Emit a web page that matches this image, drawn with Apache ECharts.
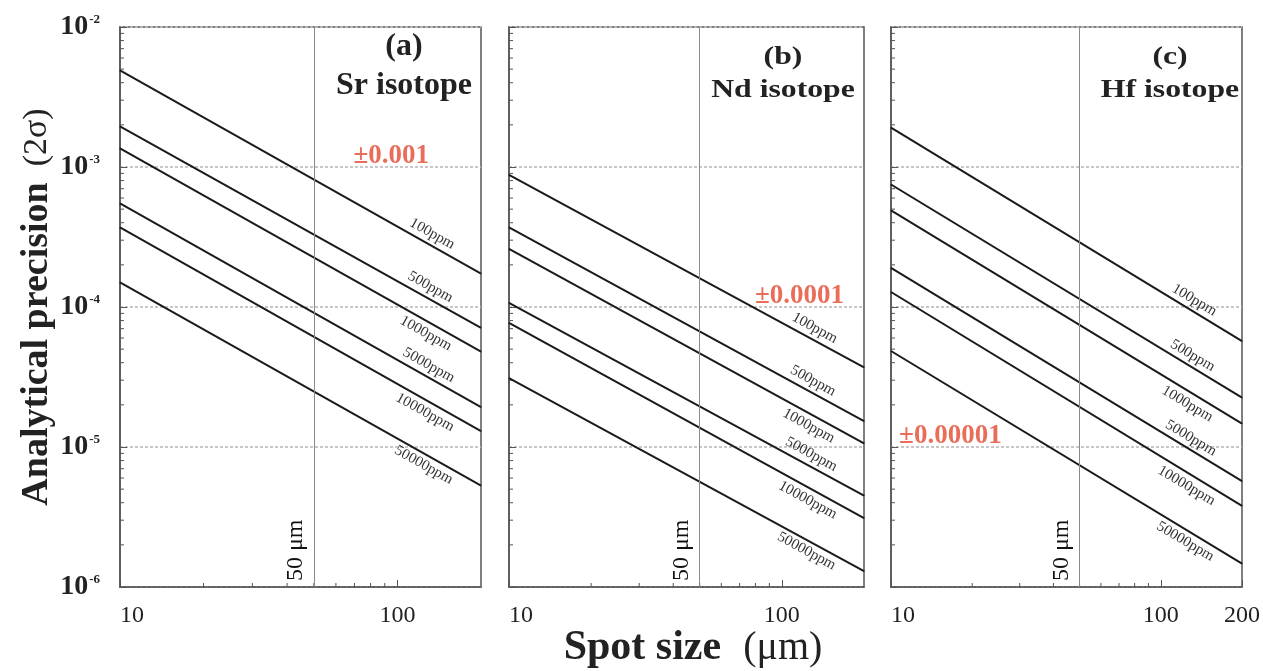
<!DOCTYPE html>
<html><head><meta charset="utf-8">
<script src="https://cdn.jsdelivr.net/npm/echarts@6/dist/echarts.min.js"></script>
<style>html,body{margin:0;padding:0;background:#fff}#c{width:1263px;height:671px}</style>
</head><body><div id="c"></div>
<script>
// ---------------- data ----------------
const concentrations = ['100ppm', '500ppm', '1000ppm', '5000ppm', '10000ppm', '50000ppm'];
const spotSizes = [10, 200];                 // µm, ends of each line
// analytical precision (2σ) at 10 µm and at 200 µm
const srAt10  = [4.9e-3, 1.95e-3, 1.36e-3, 5.5e-4, 3.7e-4, 1.5e-4];
const srAt200 = [1.73e-4, 7.1e-5, 4.8e-5, 1.93e-5, 1.3e-5, 5.3e-6];
const ndAt10  = [8.8e-4, 3.7e-4, 2.6e-4, 1.07e-4, 7.7e-5, 3.1e-5];
const ndAt200 = [3.7e-5, 1.53e-5, 1.06e-5, 4.5e-6, 3.1e-6, 1.3e-6];
const hfAt10  = [1.91e-3, 7.5e-4, 4.9e-4, 1.9e-4, 1.28e-4, 4.85e-5];
const hfAt200 = [5.7e-5, 2.25e-5, 1.47e-5, 5.7e-6, 3.8e-6, 1.47e-6];
const panelTags = ['(a)', '(b)', '(c)'];
const panelNames = ['Sr isotope', 'Nd isotope', 'Hf isotope'];
const refSpot = 50;
const refSpotLabel = '50 μm';
const precisionLevels = [1e-3, 1e-4, 1e-5];
const precisionTexts = ['±0.001', '±0.0001', '±0.00001'];
const xMinorTicks = [20, 30, 40, 50, 60, 70, 80, 90];
const yMinorMantissas = [2, 3, 4, 5, 6, 7, 8, 9];
const yDecades = [1e-6, 1e-5, 1e-4, 1e-3];

// ---------------- style / layout ----------------
const FONT = '"Liberation Serif","Times New Roman",serif';
const LINE = '#1a1a1a';
const BORDER = '#555';
const RED = '#e5492f';
const TOP = 27, HEIGHT = 560;
const panels = [
  {left: 120, width: 361, at10: srAt10, at200: srAt200, angle: -29.2, showY: true,  showMax: false, annX: 95},
  {left: 509, width: 355, at10: ndAt10, at200: ndAt200, angle: -28.6, showY: false, showMax: false, annX: 116},
  {left: 891, width: 359, at10: hfAt10, at200: hfAt200, angle: -30.7, showY: false, showMax: true,  annX: 16.6}
];
const labelPerp  = [-11, -11, 11, -11, 11, 10];
const labelAlong = [-62, -64, -57, -66, -58, -60];
const titlePos = [
  {x: 404, y1: 47, y2: 86, size: 32, sx: 1},
  {x: 783, y1: 57, y2: 90, size: 26, sx: 1.22},
  {x: 1170, y1: 57, y2: 90, size: 26, sx: 1.22}
];

const yMinorTicks = [];
yDecades.forEach(d => yMinorMantissas.forEach(m => yMinorTicks.push(m * d)));

function tickItem(kind) {
  return function (params, api) {
    const p = api.coord([api.value(0), api.value(1)]);
    const shape = kind === 'x'
      ? {x1: p[0], y1: p[1], x2: p[0], y2: p[1] - 4}
      : {x1: p[0], y1: p[1], x2: p[0] + 4, y2: p[1]};
    return {type: 'line', shape: shape, style: {stroke: BORDER, lineWidth: 1}};
  };
}

const grids = [], xAxes = [], yAxes = [], series = [], graphics = [];
panels.forEach((P, k) => {
  grids.push({left: P.left, top: TOP, width: P.width, height: HEIGHT, show: true,
    borderColor: BORDER, borderWidth: 1.5, backgroundColor: 'transparent'});
  xAxes.push({type: 'log', logBase: 10, gridIndex: k, min: spotSizes[0], max: spotSizes[1],
    axisLine: {show: true, lineStyle: {color: BORDER, width: 1.5}},
    axisTick: {show: true, inside: true, length: 7, lineStyle: {color: BORDER}},
    splitLine: {show: false},
    axisLabel: {show: true, margin: 17, fontFamily: FONT, fontSize: 24, color: '#222',
      showMinLabel: true, showMaxLabel: P.showMax, alignMinLabel: 'left',
      formatter: v => String(Math.round(v))}
  });
  const ya = {type: 'log', logBase: 10, gridIndex: k, min: 1e-6, max: 1e-2,
    axisLine: {show: true, lineStyle: {color: BORDER, width: 1.5}},
    axisTick: {show: true, inside: true, length: 7, lineStyle: {color: BORDER}},
    splitLine: {show: true, lineStyle: {color: '#b5b5b5', type: [3, 2], width: 1.5}},
    axisLabel: {show: P.showY, margin: 20, fontFamily: FONT,
      formatter: v => '{b|10}{s|' + Math.round(Math.log10(v)) + '}',
      rich: {b: {fontFamily: FONT, fontSize: 28, fontWeight: 'bold', color: '#222'},
             s: {fontFamily: FONT, fontSize: 13, fontWeight: 'bold', color: '#222', verticalAlign: 'top', padding: [0, 0, 0, 1]}}}
  };
  if (k === 0) {
    ya.name = '{b|Analytical precision}{n|(2σ)}';
    ya.nameLocation = 'middle';
    ya.nameGap = 60;
    ya.nameRotate = 90;
    ya.nameTextStyle = {rich: {
      b: {fontFamily: FONT, fontSize: 38, fontWeight: 'bold', color: '#222'},
      n: {fontFamily: FONT, fontSize: 34, color: '#222', padding: [0, 0, 0, 16]}}};
  }
  yAxes.push(ya);

  concentrations.forEach((c, i) => {
    const s = {
      type: 'line', xAxisIndex: k, yAxisIndex: k, silent: true, animation: false,
      symbol: 'circle', symbolSize: 1, showSymbol: true,
      lineStyle: {color: LINE, width: 2}, itemStyle: {color: LINE},
      label: {show: false},
      data: [
        [spotSizes[0], P.at10[i]],
        {value: [spotSizes[1], P.at200[i]], label: {
          show: true, formatter: c, position: 'inside', rotate: P.angle,
          align: 'center', verticalAlign: 'middle', offset: [labelAlong[i], labelPerp[i]],
          fontFamily: FONT, fontSize: 15, color: '#333'}}
      ]
    };
    if (i === 0) {
      s.markLine = {silent: true, symbol: ['none', 'none'], animation: false,
        lineStyle: {color: '#8a8a8a', width: 1, type: 'solid'},
        label: {show: true, formatter: refSpotLabel, position: 'insideStartTop',
          fontFamily: FONT, fontSize: 24, color: '#111', distance: 6},
        data: [{xAxis: refSpot}]};
    }
    series.push(s);
  });

  series.push({type: 'scatter', xAxisIndex: k, yAxisIndex: k, silent: true, animation: false,
    symbolSize: 1, itemStyle: {color: 'rgba(0,0,0,0)'},
    label: {show: true, position: 'top', distance: -3, formatter: precisionTexts[k],
      fontFamily: FONT, fontSize: 27, fontWeight: 'bold', color: RED},
    data: [[P.annX, precisionLevels[k]]]});

  series.push({type: 'custom', xAxisIndex: k, yAxisIndex: k, silent: true, animation: false,
    renderItem: tickItem('x'), data: xMinorTicks.map(v => [v, 1e-6])});
  series.push({type: 'custom', xAxisIndex: k, yAxisIndex: k, silent: true, animation: false,
    renderItem: tickItem('y'), data: yMinorTicks.map(v => [10, v])});

  const T = titlePos[k];
  graphics.push({type: 'text', x: T.x, y: T.y1, scaleX: T.sx, style: {text: panelTags[k],
    font: 'bold ' + T.size + 'px ' + FONT, fill: '#222', align: 'center', verticalAlign: 'middle'}});
  graphics.push({type: 'text', x: T.x, y: T.y2, scaleX: T.sx, style: {text: panelNames[k],
    font: 'bold ' + T.size + 'px ' + FONT, fill: '#222', align: 'center', verticalAlign: 'middle'}});
});

graphics.push({type: 'text', x: 693, y: 648, style: {
  text: '{b|Spot size}{n|(μm)}', align: 'center', verticalAlign: 'middle',
  rich: {b: {fontFamily: FONT, fontSize: 42, fontWeight: 'bold', fill: '#222'},
         n: {fontFamily: FONT, fontSize: 40, fill: '#222', padding: [0, 0, 0, 22]}}}});

const chart = echarts.init(document.getElementById('c'));
chart.setOption({
  animation: false,
  backgroundColor: '#fff',
  grid: grids, xAxis: xAxes, yAxis: yAxes, series: series, graphic: graphics
});
</script>
</body></html>
